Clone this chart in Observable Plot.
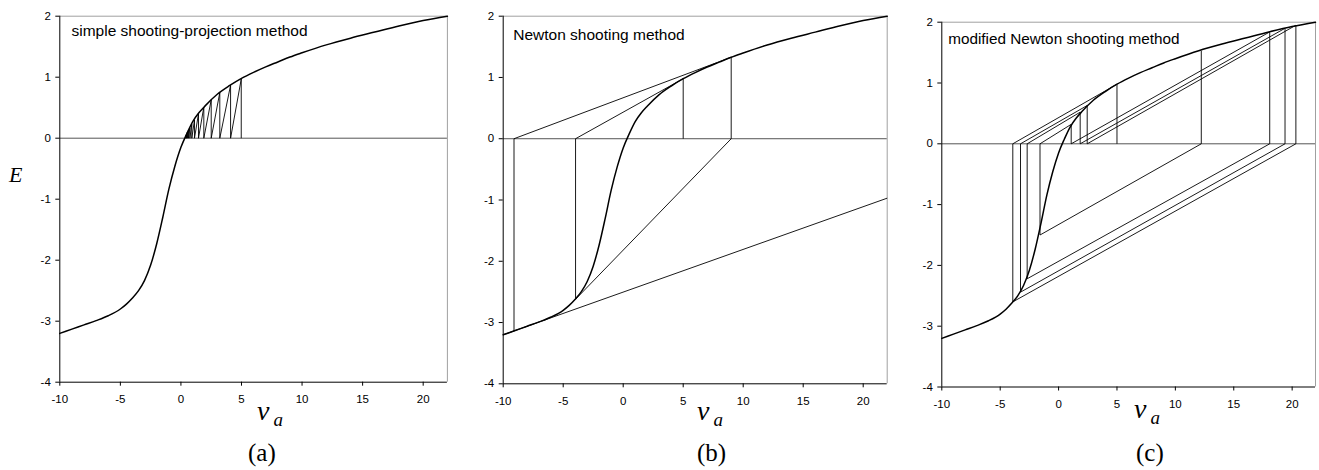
<!DOCTYPE html>
<html>
<head>
<meta charset="utf-8">
<script src="https://cdn.jsdelivr.net/npm/d3@7"></script>
<script src="https://cdn.jsdelivr.net/npm/@observablehq/plot@0.6"></script>
<style>
  html, body { margin: 0; padding: 0; background: #fff; }
  #root { position: relative; width: 1319px; height: 470px; overflow: hidden; }
  .panel { position: absolute; top: 0; }
  .lbl { position: absolute; font-family: "Liberation Serif", "Times New Roman", serif; color: #000; white-space: nowrap; line-height: 1; }
</style>
</head>
<body>
<div id="root"></div>
<script>
// ---- data ----
const xTicks = [-10, -5, 0, 5, 10, 15, 20];
const yTicks = [-4, -3, -2, -1, 0, 1, 2];

// the characteristic E(v_a) curve
const curveV = [-10, -9, -8, -7, -6, -5, -4.5, -4, -3.5, -3, -2.5, -2, -1.5, -1, -0.5, 0, 0.5, 1, 1.5, 2, 3, 4, 5, 6, 7, 8, 9, 10, 12, 14, 16, 18, 20, 22];
const curveE = [-3.2, -3.13, -3.06, -2.99, -2.91, -2.80, -2.72, -2.62, -2.50, -2.33, -2.08, -1.73, -1.30, -0.84, -0.46, -0.15, 0.08, 0.28, 0.42, 0.53, 0.72, 0.86, 0.98, 1.08, 1.17, 1.25, 1.33, 1.40, 1.53, 1.64, 1.74, 1.84, 1.93, 2.0];

// (a) simple shooting-projection iterates
const projV = [4.98, 4.10, 3.21, 2.50, 1.89, 1.45, 1.12, 0.90, 0.74, 0.62, 0.53, 0.46, 0.41];
const projE = [0.97, 0.87, 0.75, 0.63, 0.51, 0.40, 0.30, 0.23, 0.17, 0.13, 0.10, 0.07, 0.05];

// (b) Newton shooting iterates
const newtonV = [5.0, -3.97, 9.0, -9.1];
const newtonE = [0.98, -2.62, 1.33, -3.14];
// last tangent line, drawn across the whole panel
const lastTangentV = [-10, 22];
const lastTangentE = [-3.2, -0.97];

// (c) modified Newton shooting iterates
const modV = [5.0, -3.92, 20.32, 2.45, -3.26, 19.39, 1.85, -2.69, 18.08, 1.08, -1.59, 12.22];
const modE = [0.98, -2.60, 1.95, 0.63, -2.44, 1.90, 0.52, -2.22, 1.84, 0.32, -1.50, 1.53];

const titles = ["simple shooting-projection method", "Newton shooting method", "modified Newton shooting method"];
const panelTags = ["(a)", "(b)", "(c)"];

// ---- build ----
const curve = curveV.map((v, i) => ({v, E: curveE[i]}));

function iterSegments(V, E) {
  const segs = [];
  for (let i = 0; i < V.length; i++) {
    segs.push({x1: V[i], y1: 0, x2: V[i], y2: E[i]});
    if (i + 1 < V.length) segs.push({x1: V[i], y1: E[i], x2: V[i + 1], y2: 0});
  }
  return segs;
}

const segA = iterSegments(projV, projE);
const segB = iterSegments(newtonV, newtonE).concat([{x1: lastTangentV[0], y1: lastTangentE[0], x2: lastTangentV[1], y2: lastTangentE[1]}]);
const segC = iterSegments(modV, modE);

const fmt = d => String(d);

function panel(cfg) {
  return Plot.plot({
    width: cfg.w, height: cfg.h,
    marginLeft: cfg.ml, marginRight: cfg.mr, marginTop: cfg.mt, marginBottom: cfg.mb,
    style: {fontFamily: "'Liberation Sans', Arial, sans-serif", fontSize: "11.5px", color: "#000", background: "transparent", overflow: "visible"},
    x: {domain: [-10, 22]},
    y: {domain: [-4, 2]},
    marks: [
      Plot.ruleY([2], {stroke: "#a0a0a0", strokeWidth: 1}),
      Plot.ruleX([22], {stroke: "#a0a0a0", strokeWidth: 1}),
      Plot.ruleY([0], {stroke: "#555", strokeWidth: 1}),
      Plot.link(cfg.segs, {x1: "x1", y1: "y1", x2: "x2", y2: "y2", stroke: "#000", strokeWidth: 0.9}),
      Plot.line(curve, {x: "v", y: "E", stroke: "#000", strokeWidth: 1.5, curve: "monotone-x"}),
      Plot.ruleX([-10], {stroke: "#000", strokeWidth: 1}),
      Plot.ruleY([-4], {stroke: "#000", strokeWidth: 1}),
      Plot.axisX({ticks: xTicks, tickFormat: fmt, tickSize: 4, tickPadding: 9, label: null, stroke: "#000"}),
      Plot.axisY({ticks: yTicks, tickFormat: fmt, tickSize: 4, tickPadding: 5, label: null, stroke: "#000"}),
      Plot.text([cfg.title], {frameAnchor: "top-left", textAnchor: "start", lineAnchor: "top", dx: cfg.tdx, dy: cfg.tdy, fontSize: cfg.tfs, fill: "#000"})
    ]
  });
}

const root = document.getElementById("root");
const cfgs = [
  {left: 0,   w: 460, h: 420, ml: 59.3, mr: 13.1, mt: 15.7, mb: 38.3, segs: segA, title: titles[0], tdx: 11.7, tdy: 8.5, tfs: 15.5},
  {left: 440, w: 460, h: 420, ml: 62.7, mr: 13.3, mt: 15.7, mb: 36.7, segs: segB, title: titles[1], tdx: 10, tdy: 12.5, tfs: 15.5},
  {left: 880, w: 439, h: 420, ml: 61.3, mr: 4,    mt: 21.7, mb: 33.5, segs: segC, title: titles[2], tdx: 6.4, tdy: 11, tfs: 15.3}
];
cfgs.forEach(c => {
  const d = document.createElement("div");
  d.className = "panel";
  d.style.left = c.left + "px";
  d.appendChild(panel(c));
  root.appendChild(d);
});

function addLabel(html, left, top, size, italic) {
  const s = document.createElement("div");
  s.className = "lbl";
  s.innerHTML = html;
  s.style.left = left + "px";
  s.style.top = top + "px";
  s.style.fontSize = size + "px";
  if (italic) s.style.fontStyle = "italic";
  root.appendChild(s);
}
// y-axis title (panel a only)
addLabel("E", 9, 164, 22, true);
// x-axis titles
const vaX = [257, 697, 1134];
const vaY = [397, 397, 395];
vaX.forEach((x, i) => addLabel('v<span style="font-size:19px;position:relative;top:6px;margin-left:4px">a</span>', x, vaY[i], 28, true));
// panel tags
const tagX = [248, 697, 1136];
tagX.forEach((x, i) => addLabel(panelTags[i], x, 440, 25, false));
</script>
</body>
</html>
